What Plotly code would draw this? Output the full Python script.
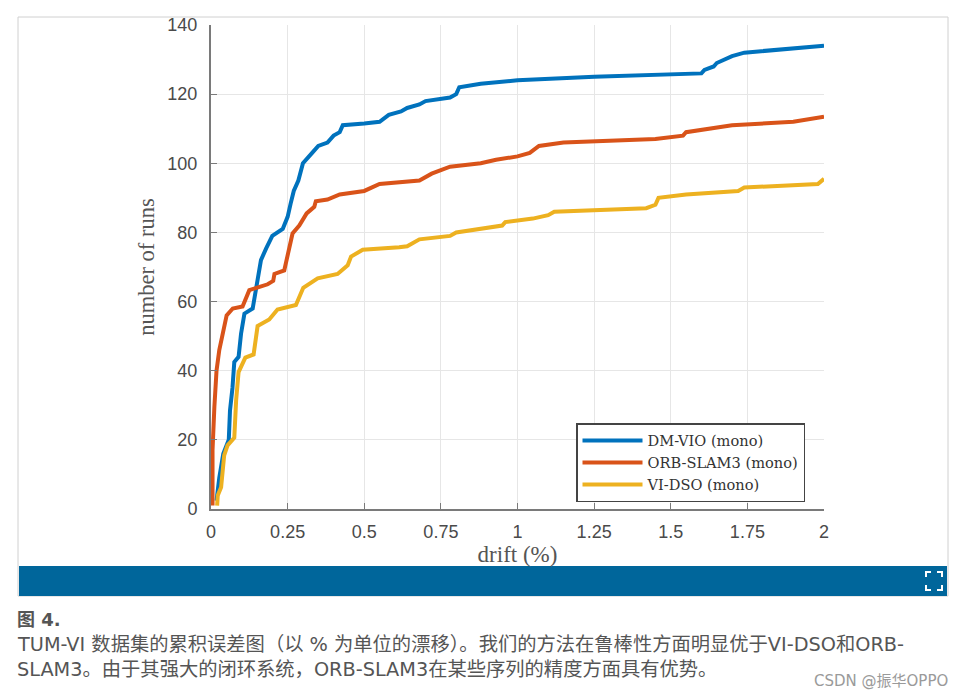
import plotly.graph_objects as go

dm_x = [.018,.027,.04,.058,.062,.07,.076,.09,.098,.109,.136,.152,.163,.18,.2,.234,.25,.26,.27,.285,.30,.33,.35,.38,.40,.42,.43,.5,.55,.58,.62,.64,.68,.7,.78,.8,.81,.88,1.0,1.25,1.6,1.61,1.64,1.65,1.7,1.74,2]
dm_y = [2.4,9,16,20,28.5,35,42.5,44,50.7,56.5,58,66,72,75.4,79,81,84.5,88.4,92,95,100,103,105,106,108,109,111,111.5,112,114,115,116,117,118,119,120,122,123,124,125,126,127,128,129,131,132,134]
orb_x = [.005,.005,.011,.018,.027,.038,.051,.071,.103,.125,.152,.185,.203,.207,.239,.25,.266,.288,.312,.337,.342,.38,.42,.5,.55,.68,.72,.75,.78,.88,.93,1.0,1.04,1.07,1.15,1.45,1.54,1.55,1.7,1.9,2]
orb_y = [1,17,29.5,40,46,50.7,56,58,58.6,63.3,64,65,66,68,69,73.4,79.7,82,85.5,87.4,89,89.5,91,92,94,95,97,98,99,100,101,102,103,105,106,107,108,109,111,112,113.5]
vi_x = [.02,.022,.033,.043,.054,.076,.082,.09,.112,.139,.152,.19,.217,.277,.301,.348,.413,.446,.457,.495,.614,.64,.68,.78,.8,.95,.96,1.05,1.1,1.12,1.42,1.45,1.46,1.55,1.72,1.74,1.98,2]
vi_y = [1,3.9,6.3,15.5,18.4,20.6,31.4,39.6,43.8,44.7,52.9,54.8,57.7,59,64,66.7,68,70.5,73,75,75.7,76,78,79,80,82,83,84,85,86,87,88,90,91,92,93,94,95.5]
x_ticks = [0,.25,.5,.75,1,1.25,1.5,1.75,2]
x_labels = ["0","0.25","0.5","0.75","1","1.25","1.5","1.75","2"]
y_ticks = [0,20,40,60,80,100,120,140]

W, H = 963, 698
px = lambda v: v / W
py = lambda v: 1 - v / H
SERIF = "Liberation Serif"
SANS = "Liberation Sans"
CAP = "DejaVu Sans, Noto Sans CJK SC"
GRAY = "#7a7a7a"

fig = go.Figure()
for name, xs, ys, c in [("DM-VIO (mono)", dm_x, dm_y, "#0072BD"),
                        ("ORB-SLAM3 (mono)", orb_x, orb_y, "#D95319"),
                        ("VI-DSO (mono)", vi_x, vi_y, "#EDB120")]:
    fig.add_trace(go.Scatter(x=xs, y=ys, mode="lines", name=name, line=dict(color=c, width=4)))

shapes = [
    dict(type="rect", xref="paper", yref="paper", x0=px(18), x1=px(948), y0=py(17), y1=py(596),
         line=dict(color="#d0d0d0", width=1), layer="below"),
    dict(type="rect", xref="paper", yref="paper", x0=px(19), x1=px(947), y0=py(566), y1=py(596),
         fillcolor="#00669b", line=dict(width=0), layer="below"),
]
for cx, cy, dx, dy in [(926,572,1,1),(942,572,-1,1),(926,590,1,-1),(942,590,-1,-1)]:
    path = f"M {px(cx+dx*5)} {py(cy)} L {px(cx)} {py(cy)} L {px(cx)} {py(cy+dy*5)}"
    shapes.append(dict(type="path", xref="paper", yref="paper", path=path, line=dict(color="white", width=2)))

annos = [
    dict(text="<b>图 4.</b>", x=px(15), y=py(619), font=dict(size=18, color="#555555", family=CAP)),
    dict(text="TUM-VI 数据集的累积误差图（以 % 为单位的漂移）。我们的方法在鲁棒性方面明显优于VI-DSO和ORB-", x=px(15), y=py(644), font=dict(size=19.3, color="#555555", family=CAP)),
    dict(text="SLAM3。由于其强大的闭环系统，ORB-SLAM3在某些序列的精度方面具有优势。", x=px(15), y=py(669), font=dict(size=19.3, color="#555555", family=CAP)),
]
annos = [dict(a, xref="paper", yref="paper", xanchor="left", yanchor="middle", showarrow=False) for a in annos]
annos.append(dict(text="CSDN @振华OPPO", xref="paper", yref="paper", x=px(950), y=py(681), xanchor="right", yanchor="middle",
                  showarrow=False, font=dict(size=15, color="#9a9a9a", family=CAP)))

fig.update_layout(
    width=W, height=H, margin=dict(l=0, r=0, t=0, b=0, autoexpand=False),
    paper_bgcolor="white", plot_bgcolor="white",
    shapes=shapes, annotations=annos,
    legend=dict(x=px(576), y=py(423), xanchor="left", yanchor="top", bgcolor="white",
                bordercolor="#444444", borderwidth=1.5, font=dict(family="DejaVu Serif", size=14.6, color="#333333"),
                itemwidth=60, tracegroupgap=0),
    xaxis=dict(domain=[px(211), px(824)], range=[0, 2], tickvals=x_ticks, ticktext=x_labels,
               ticks="inside", ticklen=6, tickcolor=GRAY, showline=True, linecolor=GRAY, linewidth=2,
               gridcolor="#e6e6e6", zeroline=False, tickfont=dict(family=SANS, size=18, color="#4a4a4a"),
               ticklabelstandoff=5,
               title=dict(text="drift (%)", font=dict(family=SERIF, size=23, color="#555555"), standoff=4)),
    yaxis=dict(domain=[py(509), py(25)], range=[0, 140], tickvals=y_ticks,
               ticks="inside", ticklen=6, tickcolor=GRAY, showline=True, linecolor=GRAY, linewidth=2,
               gridcolor="#e6e6e6", zeroline=False, tickfont=dict(family=SANS, size=18, color="#4a4a4a"),
               ticklabelstandoff=8,
               title=dict(text="number of runs", font=dict(family=SERIF, size=22.5, color="#555555"), standoff=6)),
)
fig.write_html("out.html", config=dict(displayModeBar=False), post_script="document.body.style.margin='0';")
